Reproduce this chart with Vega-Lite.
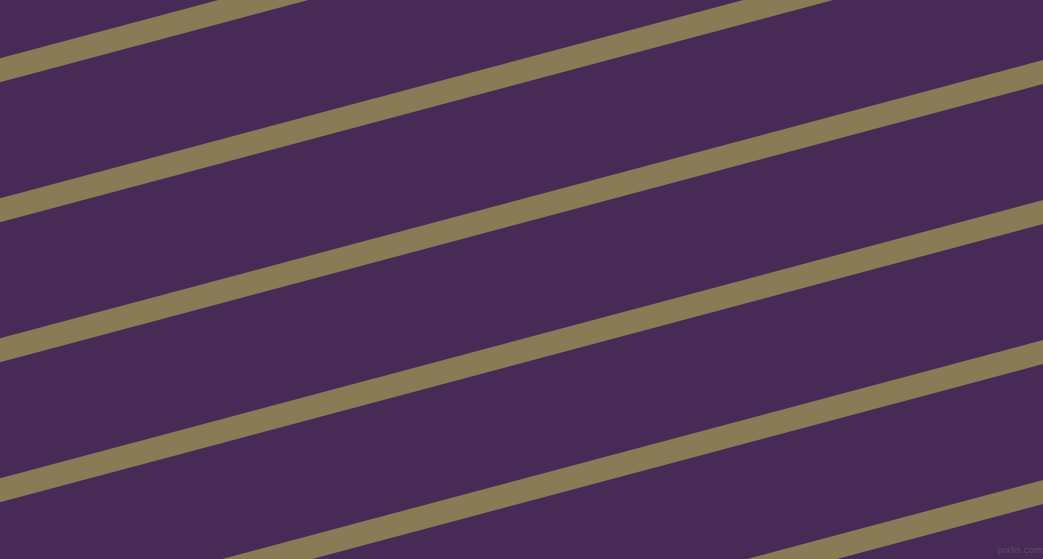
{
  "$schema": "https://vega.github.io/schema/vega-lite/v6.json",
  "autosize": {"type": "fit", "contains": "padding"},
  "width": 1043,
  "height": 559,
  "padding": 0,
  "background": "#472b56",
  "config": {"view": {"stroke": null, "fill": "#472b56"}},
  "layer": [
    {
      "data": {"values": [
        {"x": -50, "y": 83.6, "x2": 1093, "y2": -221.3},
        {"x": -50, "y": 223.6, "x2": 1093, "y2": -81.3},
        {"x": -50, "y": 363.6, "x2": 1093, "y2": 58.7},
        {"x": -50, "y": 503.6, "x2": 1093, "y2": 198.7},
        {"x": -50, "y": 643.6, "x2": 1093, "y2": 338.7},
        {"x": -50, "y": 783.6, "x2": 1093, "y2": 478.7}
      ]},
      "mark": {"type": "rule", "color": "#887b55", "strokeWidth": 23.2, "strokeCap": "butt", "clip": true},
      "encoding": {
        "x": {"field": "x", "type": "quantitative", "scale": {"domain": [0, 1043], "nice": false, "zero": false}, "axis": null},
        "y": {"field": "y", "type": "quantitative", "scale": {"domain": [0, 559], "reverse": true, "nice": false, "zero": false}, "axis": null},
        "x2": {"field": "x2"},
        "y2": {"field": "y2"}
      }
    },
    {
      "data": {"values": [{"x": 1020, "y": 550, "label": "pixlis.com"}]},
      "mark": {"type": "text", "color": "#5e4a6b", "fontSize": 9, "font": "DejaVu Sans", "align": "center", "baseline": "middle"},
      "encoding": {
        "x": {"field": "x", "type": "quantitative", "scale": {"domain": [0, 1043], "nice": false, "zero": false}, "axis": null},
        "y": {"field": "y", "type": "quantitative", "scale": {"domain": [0, 559], "reverse": true, "nice": false, "zero": false}, "axis": null},
        "text": {"field": "label"}
      }
    }
  ]
}
